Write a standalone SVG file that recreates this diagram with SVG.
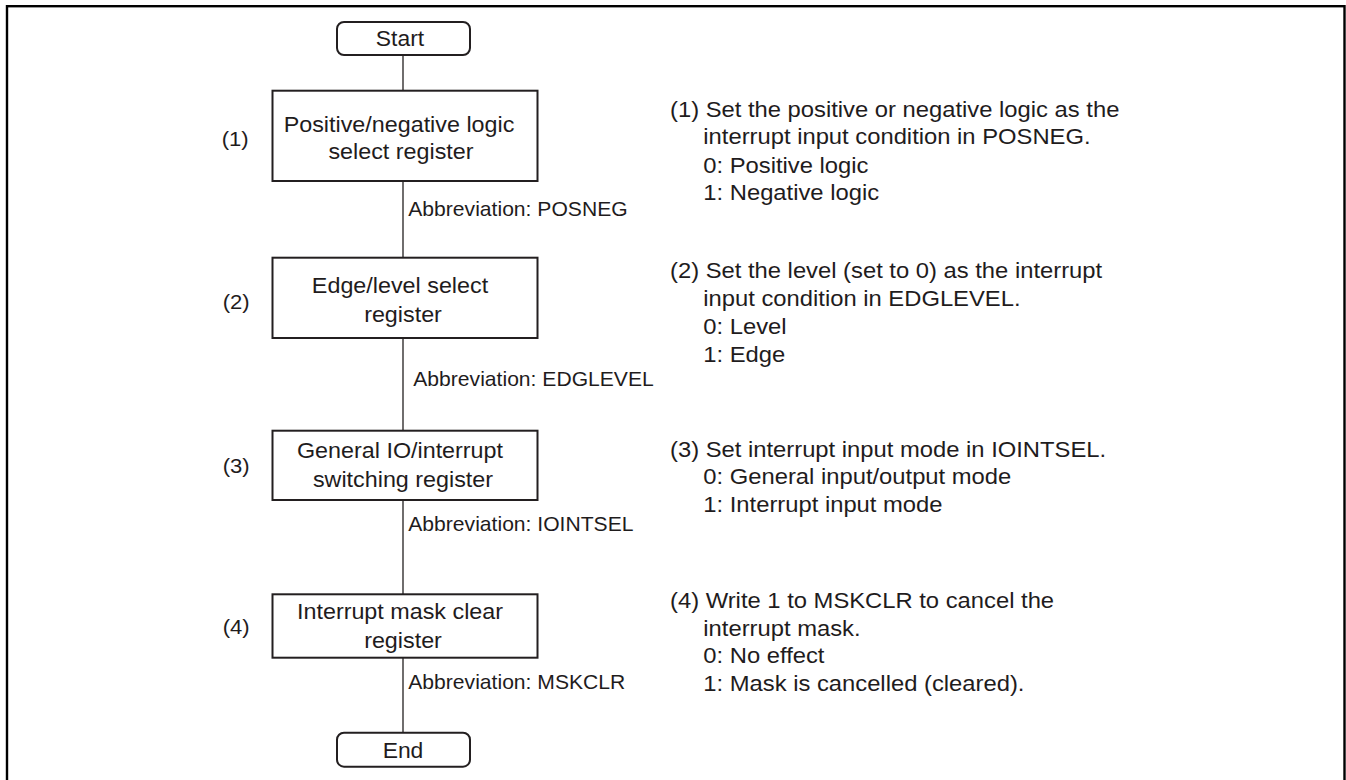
<svg xmlns="http://www.w3.org/2000/svg" width="1346" height="780" viewBox="0 0 1346 780">
<style>
.frame{fill:none;stroke:#000;stroke-width:2.4}
.box{fill:#fff;stroke:#231f20;stroke-width:2}
.term{fill:#fff;stroke:#231f20;stroke-width:2}
.conn{stroke:#231f20;stroke-width:1.3;fill:none}
text{font-family:"Liberation Sans",Arial,sans-serif;fill:#1f1c1d}
.bt{font-size:21.5px;text-anchor:middle}
.tt{font-size:22px;text-anchor:middle}
.num{font-size:21px}
.ab{font-size:20.5px}
.rt{font-size:21.5px}
</style>
<rect class="frame" x="7" y="6.2" width="1337.5" height="800"/>
<g id="connectors">
<line class="conn" x1="403" y1="55" x2="403" y2="90.7"/>
<line class="conn" x1="403" y1="181" x2="403" y2="257.7"/>
<line class="conn" x1="403" y1="338" x2="403" y2="430.7"/>
<line class="conn" x1="403" y1="500" x2="403" y2="594.3"/>
<line class="conn" x1="403" y1="657.7" x2="403" y2="732.7"/>
<text class="ab" transform="translate(408.3,216) scale(1.03,1)">Abbreviation: POSNEG</text>
<text class="ab" transform="translate(413.3,385.7) scale(1.03,1)">Abbreviation: EDGLEVEL</text>
<text class="ab" transform="translate(408.3,530.7) scale(1.03,1)">Abbreviation: IOINTSEL</text>
<text class="ab" transform="translate(408.3,689.3) scale(1.03,1)">Abbreviation: MSKCLR</text>
</g>
<g id="start">
<rect class="term" x="337" y="22" width="133" height="33" rx="7"/>
<text class="tt" transform="translate(400,45.7) scale(1.04,1)">Start</text>
</g>
<g id="step1">
<rect class="box" x="272.5" y="90.7" width="265" height="90.3"/>
<text class="bt" transform="translate(399,131.7) scale(1.085,1)">Positive/negative logic</text>
<text class="bt" transform="translate(401,159.3) scale(1.085,1)">select register</text>
<text class="num" transform="translate(221.7,146) scale(1.05,1)">(1)</text>
</g>
<g id="step2">
<rect class="box" x="272.5" y="257.7" width="265" height="80.3"/>
<text class="bt" transform="translate(400,292.7) scale(1.085,1)">Edge/level select</text>
<text class="bt" transform="translate(403,321.7) scale(1.085,1)">register</text>
<text class="num" transform="translate(222.7,309) scale(1.05,1)">(2)</text>
</g>
<g id="step3">
<rect class="box" x="272.5" y="430.7" width="265" height="69.3"/>
<text class="bt" transform="translate(400,458.3) scale(1.085,1)">General IO/interrupt</text>
<text class="bt" transform="translate(403,487.3) scale(1.085,1)">switching register</text>
<text class="num" transform="translate(222.7,473) scale(1.05,1)">(3)</text>
</g>
<g id="step4">
<rect class="box" x="272.5" y="594.3" width="265" height="63.4"/>
<text class="bt" transform="translate(400,619.3) scale(1.085,1)">Interrupt mask clear</text>
<text class="bt" transform="translate(403,648.3) scale(1.085,1)">register</text>
<text class="num" transform="translate(222.7,634) scale(1.05,1)">(4)</text>
</g>
<g id="end">
<rect class="term" x="337" y="732.7" width="133" height="34" rx="7"/>
<text class="tt" transform="translate(403,758.3) scale(1.04,1)">End</text>
</g>
<g id="note1">
<text class="rt" transform="translate(670,117.3) scale(1.107,1)">(1) Set the positive or negative logic as the</text>
<text class="rt" transform="translate(703.3,144.3) scale(1.107,1)">interrupt input condition in POSNEG.</text>
<text class="rt" transform="translate(703.3,172.7) scale(1.107,1)">0: Positive logic</text>
<text class="rt" transform="translate(703.3,200) scale(1.107,1)">1: Negative logic</text>
</g>
<g id="note2">
<text class="rt" transform="translate(670,278.3) scale(1.107,1)">(2) Set the level (set to 0) as the interrupt</text>
<text class="rt" transform="translate(703.3,306) scale(1.107,1)">input condition in EDGLEVEL.</text>
<text class="rt" transform="translate(703.3,334) scale(1.107,1)">0: Level</text>
<text class="rt" transform="translate(703.3,362) scale(1.107,1)">1: Edge</text>
</g>
<g id="note3">
<text class="rt" transform="translate(670,456.7) scale(1.107,1)">(3) Set interrupt input mode in IOINTSEL.</text>
<text class="rt" transform="translate(703.3,484.3) scale(1.107,1)">0: General input/output mode</text>
<text class="rt" transform="translate(703.3,511.7) scale(1.107,1)">1: Interrupt input mode</text>
</g>
<g id="note4">
<text class="rt" transform="translate(670,608.3) scale(1.107,1)">(4) Write 1 to MSKCLR to cancel the</text>
<text class="rt" transform="translate(703.3,636) scale(1.107,1)">interrupt mask.</text>
<text class="rt" transform="translate(703.3,663.3) scale(1.107,1)">0: No effect</text>
<text class="rt" transform="translate(703.3,691) scale(1.107,1)">1: Mask is cancelled (cleared).</text>
</g>
</svg>
